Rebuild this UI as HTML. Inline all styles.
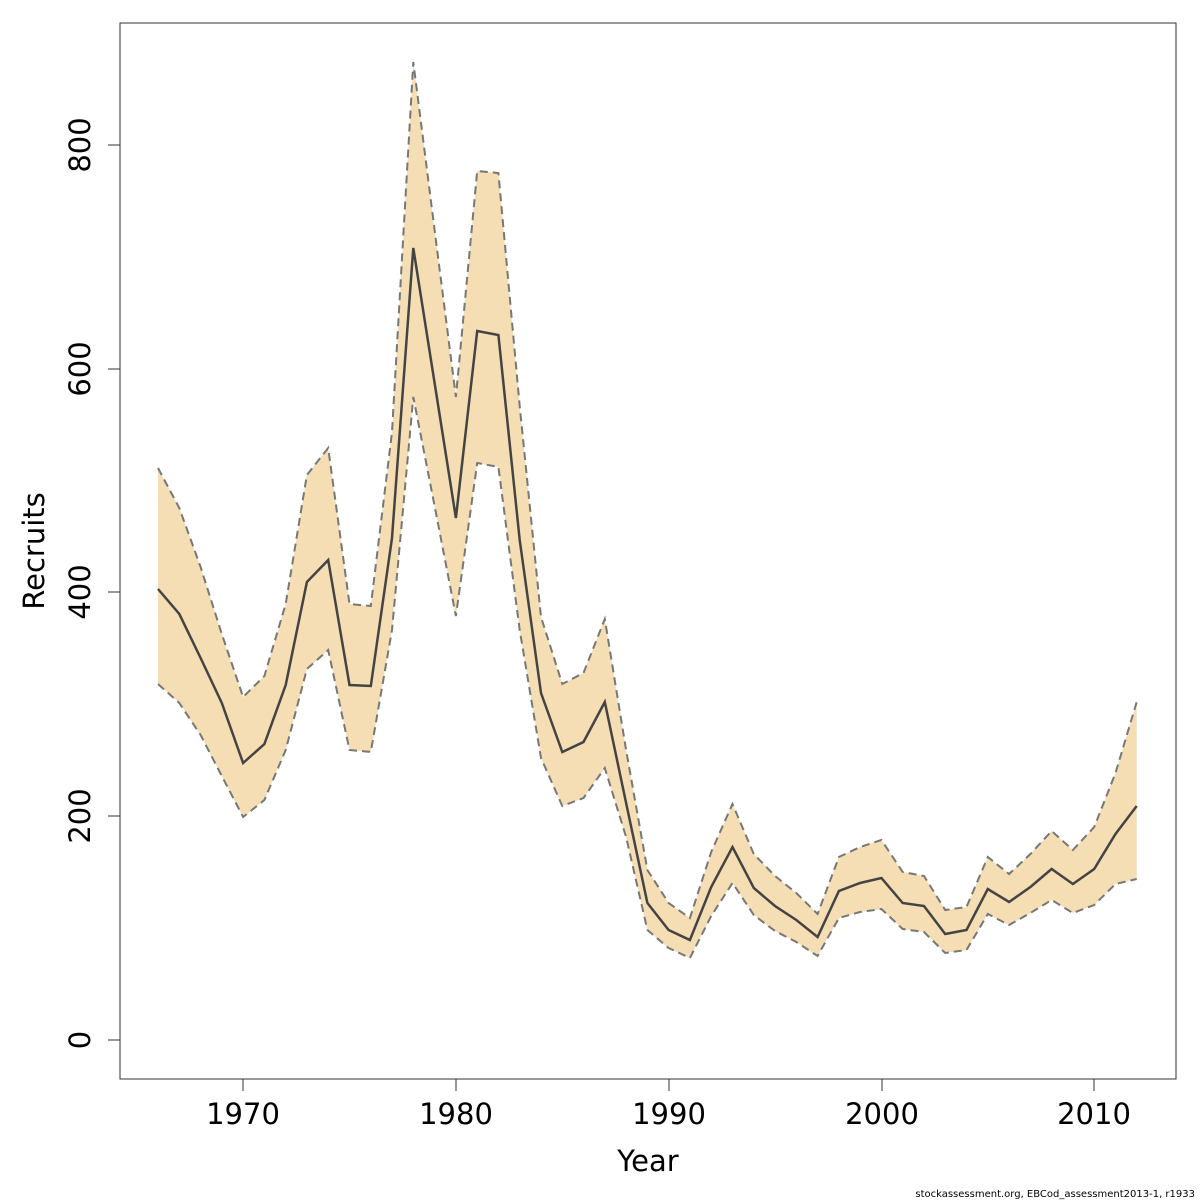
<!DOCTYPE html>
<html><head><meta charset="utf-8"><style>
html,body{margin:0;padding:0;background:#fff;}
svg{display:block;font-family:"DejaVu Sans","Liberation Sans",sans-serif;}
</style></head><body>
<svg id="s" width="1200" height="1200" viewBox="0 0 1200 1200" xmlns="http://www.w3.org/2000/svg">
<rect width="1200" height="1200" fill="#fff"/>
<path id="band" fill="#f5deb3" stroke="none"/>
<polyline id="up" fill="none" stroke="#777" stroke-width="2" stroke-dasharray="8,5"/>
<polyline id="lo" fill="none" stroke="#777" stroke-width="2" stroke-dasharray="8,5"/>
<polyline id="mid" fill="none" stroke="#444" stroke-width="2.5"/>
<rect x="120" y="23" width="1056" height="1056" fill="none" stroke="#333" stroke-width="1"/>
<g stroke="#333" stroke-width="1">
<line x1="243" y1="1079" x2="243" y2="1091"/><line x1="456" y1="1079" x2="456" y2="1091"/>
<line x1="669" y1="1079" x2="669" y2="1091"/><line x1="882" y1="1079" x2="882" y2="1091"/>
<line x1="1094" y1="1079" x2="1094" y2="1091"/>
<line x1="108" y1="1040" x2="120" y2="1040"/><line x1="108" y1="816" x2="120" y2="816"/>
<line x1="108" y1="592" x2="120" y2="592"/><line x1="108" y1="369" x2="120" y2="369"/>
<line x1="108" y1="145" x2="120" y2="145"/>
</g>
<g font-size="29" fill="#000" text-anchor="middle">
<text x="243" y="1124">1970</text><text x="456" y="1124">1980</text><text x="669" y="1124">1990</text>
<text x="882" y="1124">2000</text><text x="1094" y="1124">2010</text>
<text transform="translate(90,1040) rotate(-90)">0</text>
<text transform="translate(90,816) rotate(-90)">200</text>
<text transform="translate(90,592) rotate(-90)">400</text>
<text transform="translate(90,369) rotate(-90)">600</text>
<text transform="translate(90,145) rotate(-90)">800</text>
<text x="648" y="1171">Year</text>
<text transform="translate(44,551) rotate(-90)">Recruits</text>
</g>
<text x="1195" y="1197" font-size="10" text-anchor="end">stockassessment.org, EBCod_assessment2013-1, r1933</text>
<script>
var m=[589,614,658,703,763,744,685,582,560,685,686,538,248,383,518,331,335,540,693,752,742,702,803,903,930,940,887,847,888,906,920,937,891,883,878,903,906,934,930,889,902,887,869,884,869,834,806];
var u=[468,508,567,634,697,676,604,475,448,604,606,432,62,230,397,171,173,406,617,684,673,619,750,870,903,918,852,804,854,876,893,914,857,847,840,872,876,910,907,857,874,854,831,850,827,773,702];
var l=[684,703,735,776,817,800,750,669,650,750,752,630,397,506,616,463,467,630,758,806,798,768,837,930,948,958,916,883,915,931,942,956,918,912,909,929,932,953,950,914,925,913,900,913,905,884,879];
function X(i){return (158+i*21.277).toFixed(1);}
function pts(a){return a.map(function(v,i){return X(i)+","+v;}).join(" ");}
document.getElementById("mid").setAttribute("points",pts(m));
document.getElementById("up").setAttribute("points",pts(u));
document.getElementById("lo").setAttribute("points",pts(l));
var d="M"+u.map(function(v,i){return X(i)+","+v;}).join(" L");
for(var i=l.length-1;i>=0;i--)d+=" L"+X(i)+","+l[i];
document.getElementById("band").setAttribute("d",d+" Z");
</script>
</svg>
</body></html>
